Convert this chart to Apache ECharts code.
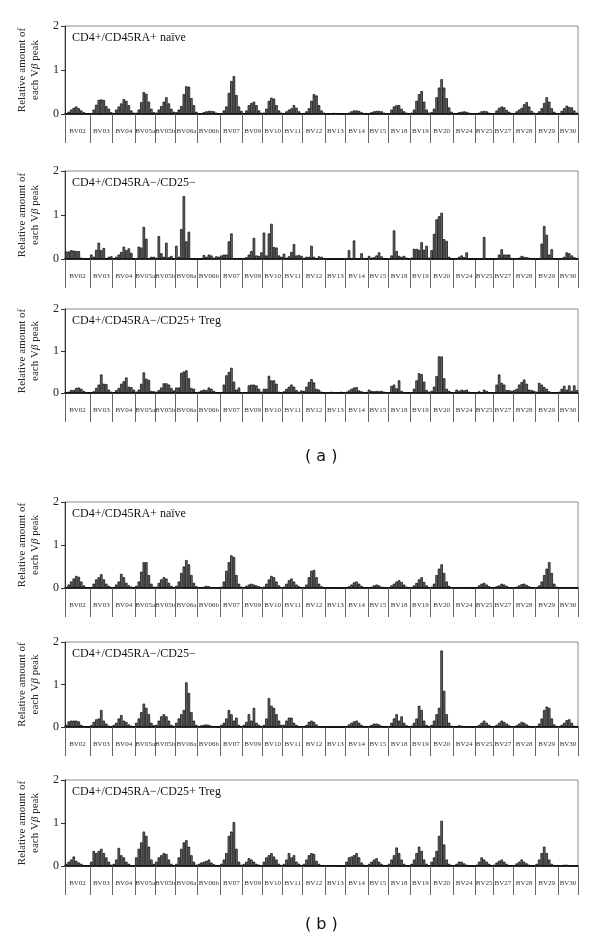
<!DOCTYPE html>
<html>
<head>
<meta charset="utf-8">
<script src="https://cdn.jsdelivr.net/npm/echarts@6/dist/echarts.min.js"></script>
<style>html,body{margin:0;padding:0;background:#fff;}#chart{width:600px;height:943px;}</style>
</head>
<body>
<div id="chart"></div>
<script>
const families = ['BV02','BV03','BV04','BV05a','BV05b','BV06a','BV06b','BV07','BV09','BV10','BV11','BV12','BV13','BV14','BV15','BV18','BV19','BV20','BV24','BV25','BV27','BV28','BV29','BV30'];
const barsPerFamily = [10,9,9,8,8,9,9,9,8,8,8,9,8,9,8,9,8,9,9,7,8,9,9,8];
const yTicks = [0, 1, 2];
const panelTitles = ['CD4+/CD45RA+ naïve','CD4+/CD45RA\u2212/CD25\u2212','CD4+/CD45RA\u2212/CD25+ Treg','CD4+/CD45RA+ naïve','CD4+/CD45RA\u2212/CD25\u2212','CD4+/CD45RA\u2212/CD25+ Treg'];

const naiveA = [
 [0.02,0.05,0.1,0.14,0.17,0.13,0.08,0.04,0.02,0.01],
 [0.02,0.1,0.21,0.32,0.33,0.32,0.18,0.12,0.04],
 [0.02,0.1,0.17,0.24,0.34,0.3,0.2,0.08,0.03],
 [0.03,0.1,0.27,0.5,0.46,0.28,0.12,0.04],
 [0.03,0.1,0.18,0.28,0.38,0.24,0.12,0.05],
 [0.04,0.1,0.18,0.45,0.63,0.62,0.36,0.2,0.05],
 [0.01,0.02,0.04,0.06,0.07,0.07,0.06,0.03,0.01],
 [0.02,0.08,0.17,0.48,0.75,0.86,0.43,0.17,0.07],
 [0.02,0.08,0.2,0.25,0.28,0.2,0.08,0.03],
 [0.03,0.12,0.3,0.37,0.35,0.2,0.08,0.03],
 [0.02,0.06,0.1,0.13,0.2,0.14,0.06,0.02],
 [0.02,0.06,0.13,0.3,0.45,0.42,0.2,0.08,0.03],
 [0.005,0.01,0.02,0.025,0.02,0.02,0.01,0.005],
 [0.01,0.03,0.06,0.08,0.08,0.07,0.04,0.02,0.01],
 [0.01,0.04,0.06,0.07,0.07,0.06,0.03,0.01],
 [0.02,0.1,0.17,0.2,0.2,0.12,0.06,0.03,0.01],
 [0.03,0.1,0.3,0.45,0.52,0.28,0.1,0.03],
 [0.04,0.12,0.38,0.6,0.79,0.6,0.36,0.15,0.05],
 [0.01,0.02,0.04,0.05,0.06,0.05,0.03,0.02,0.01],
 [0.01,0.03,0.06,0.07,0.06,0.03,0.01],
 [0.02,0.08,0.14,0.17,0.15,0.09,0.05,0.02],
 [0.02,0.06,0.1,0.14,0.22,0.27,0.17,0.07,0.03],
 [0.02,0.06,0.13,0.25,0.38,0.28,0.13,0.05,0.02],
 [0.02,0.07,0.13,0.19,0.16,0.15,0.08,0.03]
];
const cd25negA = [
 [0.17,0.17,0.2,0.19,0.18,0.18,0.03,0,0,0],
 [0.1,0.05,0.21,0.37,0.2,0.25,0,0.05,0.06],
 [0.02,0.05,0.1,0.16,0.28,0.2,0.24,0.14,0],
 [0.02,0.28,0.26,0.73,0.46,0.02,0.05,0.05],
 [0.03,0.52,0.13,0.05,0.37,0.04,0.07,0],
 [0.3,0.05,0.68,1.43,0.4,0.62,0,0,0],
 [0,0,0.09,0.05,0.1,0.08,0.03,0.06,0.05],
 [0.08,0.1,0.1,0.4,0.58,0.02,0.02,0.02,0],
 [0.02,0.04,0.1,0.18,0.48,0.08,0.07,0.15],
 [0.6,0.08,0.58,0.8,0.27,0.26,0.08,0.05],
 [0.12,0.03,0.06,0.16,0.34,0.08,0.09,0.07],
 [0.02,0.05,0.05,0.3,0.05,0.01,0.06,0.05,0.02],
 [0,0,0,0,0,0,0,0],
 [0,0.2,0,0.42,0,0.02,0.13,0.02,0],
 [0.07,0.03,0.04,0.08,0.15,0.06,0,0],
 [0,0.08,0.65,0.18,0.07,0.05,0.07,0.03,0],
 [0.03,0.23,0.23,0.21,0.38,0.21,0.3,0.03],
 [0.2,0.57,0.9,0.97,1.05,0.45,0.41,0.05,0],
 [0,0.02,0.05,0.08,0.04,0.15,0,0,0],
 [0,0,0,0.5,0,0,0],
 [0,0.02,0.1,0.22,0.1,0.1,0.1,0],
 [0.01,0.02,0.03,0.07,0.05,0.04,0.03,0.02,0.01],
 [0,0.02,0.35,0.75,0.55,0.1,0.22,0.02,0],
 [0.01,0.02,0.05,0.15,0.13,0.08,0.04,0]
];
const tregA = [
 [0.01,0.03,0.07,0.07,0.12,0.13,0.1,0.05,0.02,0.01],
 [0.01,0.04,0.12,0.2,0.44,0.22,0.21,0.08,0.03],
 [0.02,0.07,0.12,0.22,0.28,0.37,0.15,0.14,0.08],
 [0.03,0.08,0.22,0.49,0.34,0.31,0.05,0.04],
 [0.03,0.07,0.13,0.23,0.23,0.2,0.12,0.06],
 [0.13,0.13,0.48,0.51,0.54,0.35,0.12,0.1,0.02],
 [0.03,0.06,0.08,0.07,0.13,0.1,0.05,0.02,0.01],
 [0.02,0.2,0.42,0.5,0.6,0.27,0.08,0.13,0.02],
 [0.02,0.02,0.18,0.2,0.2,0.18,0.1,0.03],
 [0.1,0.1,0.41,0.3,0.3,0.22,0.03,0.02],
 [0.04,0.1,0.15,0.2,0.15,0.07,0.03,0.06],
 [0.05,0.15,0.26,0.33,0.25,0.1,0.08,0.03,0.01],
 [0.01,0.02,0.03,0.02,0.02,0.01,0.03,0.02],
 [0.03,0.06,0.1,0.13,0.14,0.06,0.04,0.02,0.01],
 [0.08,0.05,0.04,0.05,0.04,0.05,0.03,0.02],
 [0.02,0.17,0.2,0.11,0.3,0.05,0.02,0.01,0.01],
 [0.02,0.1,0.3,0.47,0.45,0.27,0.07,0.03],
 [0.05,0.15,0.4,0.87,0.87,0.35,0.1,0.05,0.02],
 [0.02,0.08,0.05,0.08,0.06,0.08,0.03,0.02,0.01],
 [0.02,0.04,0.02,0.08,0.05,0.02,0.01],
 [0.02,0.2,0.44,0.24,0.2,0.07,0.07,0.05],
 [0.07,0.1,0.2,0.26,0.32,0.22,0.08,0.07,0.05],
 [0.03,0.24,0.2,0.14,0.1,0.04,0.02,0.01,0.01],
 [0.03,0.1,0.17,0.08,0.18,0.05,0.18,0.07]
];
const naiveB = [
 [0.02,0.08,0.15,0.22,0.28,0.26,0.15,0.06,0.02,0.01],
 [0.02,0.1,0.2,0.25,0.32,0.2,0.1,0.05,0.02],
 [0.02,0.08,0.15,0.33,0.25,0.12,0.06,0.03,0.01],
 [0.05,0.15,0.38,0.6,0.6,0.3,0.1,0.03],
 [0.03,0.12,0.2,0.25,0.22,0.12,0.05,0.02],
 [0.05,0.15,0.35,0.5,0.65,0.55,0.3,0.12,0.04],
 [0.01,0.02,0.03,0.05,0.04,0.02,0.01,0.01,0],
 [0.03,0.15,0.4,0.6,0.76,0.72,0.3,0.1,0.03],
 [0.02,0.05,0.08,0.1,0.08,0.06,0.04,0.02],
 [0.03,0.1,0.2,0.28,0.25,0.15,0.06,0.02],
 [0.03,0.1,0.18,0.22,0.15,0.08,0.04,0.02],
 [0.02,0.08,0.25,0.4,0.42,0.25,0.1,0.04,0.01],
 [0,0,0.01,0.01,0.01,0,0,0],
 [0.01,0.04,0.08,0.13,0.15,0.1,0.05,0.02,0.01],
 [0.01,0.03,0.06,0.08,0.06,0.03,0.01,0.01],
 [0.02,0.06,0.1,0.15,0.18,0.14,0.08,0.03,0.01],
 [0.02,0.06,0.12,0.2,0.25,0.14,0.06,0.02],
 [0.03,0.1,0.3,0.45,0.55,0.35,0.15,0.05,0.02],
 [0.01,0.01,0.02,0.02,0.02,0.01,0.01,0,0],
 [0.02,0.06,0.1,0.12,0.08,0.04,0.01],
 [0.01,0.04,0.06,0.1,0.08,0.05,0.02,0.01],
 [0.01,0.03,0.06,0.09,0.1,0.07,0.04,0.02,0.01],
 [0.02,0.06,0.15,0.3,0.45,0.6,0.35,0.1,0.03],
 [0,0.01,0.01,0.02,0.02,0.01,0.01,0]
];
const cd25negB = [
 [0.05,0.13,0.15,0.15,0.15,0.13,0.05,0.02,0.01,0],
 [0.04,0.12,0.18,0.2,0.4,0.15,0.08,0.03,0.01],
 [0.05,0.1,0.2,0.28,0.15,0.12,0.06,0.03,0.01],
 [0.1,0.2,0.35,0.55,0.45,0.3,0.1,0.04],
 [0.05,0.15,0.25,0.3,0.25,0.15,0.05,0.02],
 [0.1,0.2,0.3,0.4,1.05,0.8,0.35,0.15,0.05],
 [0.02,0.04,0.05,0.06,0.05,0.03,0.02,0.01,0],
 [0.05,0.1,0.2,0.4,0.3,0.15,0.22,0.05,0.02],
 [0.05,0.12,0.3,0.15,0.45,0.1,0.05,0.02],
 [0.05,0.2,0.68,0.5,0.45,0.3,0.15,0.05],
 [0.05,0.15,0.22,0.22,0.1,0.05,0.02,0.01],
 [0.02,0.05,0.12,0.15,0.12,0.06,0.02,0.01,0],
 [0,0,0,0,0,0,0,0],
 [0.02,0.06,0.1,0.13,0.15,0.1,0.05,0.02,0.01],
 [0.02,0.05,0.08,0.08,0.06,0.03,0.01,0.01],
 [0.02,0.1,0.2,0.3,0.15,0.25,0.1,0.04,0.01],
 [0.03,0.1,0.2,0.5,0.4,0.15,0.05,0.02],
 [0.05,0.15,0.3,0.45,1.8,0.85,0.3,0.1,0.03],
 [0.01,0.02,0.04,0.03,0.02,0.01,0.01,0,0],
 [0.02,0.05,0.1,0.15,0.1,0.05,0.02],
 [0.02,0.05,0.1,0.15,0.12,0.08,0.04,0.02],
 [0.02,0.04,0.08,0.12,0.1,0.06,0.03,0.01,0.01],
 [0.02,0.08,0.2,0.4,0.48,0.45,0.2,0.06,0.02],
 [0.02,0.05,0.1,0.16,0.18,0.1,0.03,0.01]
];
const tregB = [
 [0.05,0.1,0.15,0.22,0.12,0.08,0.05,0.02,0.01,0],
 [0.1,0.35,0.3,0.35,0.4,0.3,0.2,0.1,0.03],
 [0.05,0.15,0.42,0.25,0.2,0.1,0.05,0.02,0.01],
 [0.2,0.4,0.55,0.8,0.7,0.45,0.15,0.05],
 [0.1,0.2,0.25,0.3,0.28,0.15,0.05,0.02],
 [0.05,0.2,0.4,0.55,0.6,0.45,0.25,0.1,0.03],
 [0.05,0.08,0.1,0.12,0.15,0.08,0.04,0.02,0.01],
 [0.05,0.15,0.3,0.7,0.8,1.02,0.4,0.1,0.03],
 [0.05,0.1,0.18,0.15,0.1,0.05,0.03,0.01],
 [0.1,0.2,0.25,0.3,0.22,0.15,0.05,0.02],
 [0.05,0.15,0.3,0.2,0.25,0.1,0.05,0.02],
 [0.05,0.15,0.25,0.3,0.28,0.12,0.05,0.02,0.01],
 [0.01,0.02,0.02,0.02,0.01,0.01,0,0],
 [0.1,0.2,0.22,0.25,0.3,0.2,0.08,0.03,0.01],
 [0.05,0.1,0.15,0.18,0.1,0.05,0.02,0.01],
 [0.05,0.15,0.25,0.43,0.3,0.15,0.05,0.02,0.01],
 [0.05,0.15,0.3,0.45,0.35,0.15,0.05,0.02],
 [0.1,0.2,0.35,0.7,1.05,0.5,0.15,0.05,0.02],
 [0.02,0.05,0.1,0.1,0.06,0.03,0.01,0,0],
 [0.03,0.1,0.2,0.15,0.1,0.05,0.02],
 [0.03,0.08,0.12,0.15,0.1,0.05,0.02,0.01],
 [0.02,0.06,0.1,0.15,0.1,0.06,0.03,0.01,0.01],
 [0.05,0.15,0.3,0.45,0.3,0.15,0.05,0.02,0.01],
 [0.01,0.02,0.03,0.03,0.02,0.01,0.01,0]
];
const panelData = [naiveA, cd25negA, tregA, naiveB, cd25negB, tregB];

// layout (pixels)
const layout = [
 {top: 26, height: 88}, {top: 171, height: 88}, {top: 309, height: 84},
 {top: 502, height: 86}, {top: 642, height: 85}, {top: 780, height: 86}
];
const gridLeft = 65, gridRight = 22;
const plotWidth = 600 - gridLeft - gridRight;

const N = barsPerFamily.reduce((a, b) => a + b, 0);
const boundaries = [0];
const centers = [];
barsPerFamily.forEach((c, i) => {
  const s = boundaries[i];
  boundaries.push(s + c);
  centers.push(s + c / 2);
});
const barW = plotWidth / N;
const serif = '"Liberation Serif", "DejaVu Serif", serif';

const grids = [], xAxes = [], yAxes = [], series = [], titles = [];
layout.forEach((L, p) => {
  grids.push({left: gridLeft, right: gridRight, top: L.top, height: L.height,
    show: true, borderColor: '#8c8c8c', borderWidth: 1, backgroundColor: 'transparent'});
  xAxes.push({
    type: 'value', gridIndex: p, min: 0, max: N,
    axisLine: {show: true, onZero: true, lineStyle: {color: '#000', width: 1.6}},
    splitLine: {show: false},
    axisTick: {show: true, customValues: boundaries, length: 29, lineStyle: {color: '#666', width: 1}},
    axisLabel: {show: true, customValues: centers, margin: 14, fontSize: 7, fontFamily: serif, color: '#333',
      formatter: v => {
        let best = 0;
        centers.forEach((c, i) => { if (Math.abs(c - v) < Math.abs(centers[best] - v)) best = i; });
        return families[best];
      }}
  });
  yAxes.push({
    type: 'value', gridIndex: p, min: yTicks[0], max: yTicks[yTicks.length - 1], interval: 1,
    axisLine: {show: true, lineStyle: {color: '#333', width: 1}},
    axisTick: {show: true, length: 4, lineStyle: {color: '#333'}},
    splitLine: {show: false},
    axisLabel: {fontSize: 12, fontFamily: serif, color: '#222', margin: 6},
    name: 'Relative amount of\neach V{b|\u03b2} peak',
    nameLocation: 'middle', nameGap: 13,
    nameTextStyle: {fontSize: 11, fontFamily: serif, color: '#222', lineHeight: 13,
      rich: {b: {fontStyle: 'italic', fontSize: 11, fontFamily: serif, color: '#222'}}}
  });
  const flat = [];
  let idx = 0;
  panelData[p].forEach(fam => fam.forEach(v => { flat.push([idx + 0.5, v]); idx++; }));
  series.push({
    type: 'bar', xAxisIndex: p, yAxisIndex: p, data: flat, barWidth: barW,
    itemStyle: {color: '#6e6e6e', borderColor: '#000', borderWidth: 0.7},
    silent: true, animation: false
  });
  titles.push({text: panelTitles[p], left: 72, top: L.top + 6, padding: 0,
    textStyle: {fontSize: 12, fontFamily: serif, fontWeight: 'normal', color: '#111'}});
});

const chart = echarts.init(document.getElementById('chart'));
chart.setOption({
  animation: false,
  backgroundColor: '#fff',
  title: titles,
  grid: grids, xAxis: xAxes, yAxis: yAxes, series: series,
  graphic: [
    {type: 'text', left: 305, top: 449, style: {text: '( a )', fontSize: 16, fontFamily: '"DejaVu Sans", sans-serif', fill: '#111'}},
    {type: 'text', left: 305, top: 917, style: {text: '( b )', fontSize: 16, fontFamily: '"DejaVu Sans", sans-serif', fill: '#111'}}
  ]
});
</script>
</body>
</html>
